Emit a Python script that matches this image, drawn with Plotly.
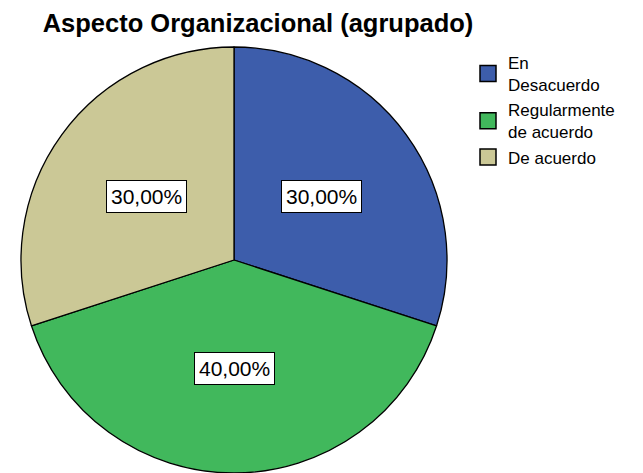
import math
import plotly.graph_objects as go

# ---- data ----
categories = ["En<br>Desacuerdo", "Regularmente<br>de acuerdo", "De acuerdo"]
values = [30, 40, 30]
label_texts = ["30,00%", "40,00%", "30,00%"]
colors = ["#3d5dab", "#41b85c", "#cbc896"]
title_text = "Aspecto Organizacional (agrupado)"

# page body has an 8px margin, so the figure is sized to fit the window
OFF = 8
W, H = 643 - OFF, 473 - OFF


def px_x(x):
    return (x - OFF) / W


def px_y(y):
    return 1 - (y - OFF) / H


cx, cy, r = 234.0, 260.0, 213.0   # pie centre / radius in window pixels

fig = go.Figure()
fig.add_trace(go.Pie(
    labels=categories,
    values=values,
    sort=False,
    direction="clockwise",
    rotation=0,
    textinfo="none",
    hoverinfo="label+percent",
    showlegend=False,
    marker=dict(colors=colors, line=dict(color="#000000", width=1.3)),
    domain=dict(x=[px_x(cx - r), px_x(cx + r)], y=[max(0, px_y(cy + r)), px_y(cy - r)]),
))

# legend entries with larger square swatches
for name, col in zip(categories, colors):
    fig.add_trace(go.Scatter(
        x=[None], y=[None], mode="markers", name=name,
        marker=dict(symbol="square", size=16, color=col, line=dict(color="#000000", width=1.5)),
        showlegend=True, hoverinfo="skip",
    ))

# percentage labels in boxes, placed at the middle angle of each slice
total = sum(values)
cum = 0.0
annotations = []
for v, t in zip(values, label_texts):
    mid = (cum + v / 2) / total * 2 * math.pi
    cum += v
    k = 0.51
    lx = cx + k * r * math.sin(mid)
    ly = cy - k * r * math.cos(mid)
    annotations.append(dict(
        x=px_x(lx), y=px_y(ly), xref="paper", yref="paper",
        text=t, showarrow=False,
        font=dict(family="Liberation Sans, Arial, sans-serif", size=21, color="#000000"),
        bgcolor="#ffffff", bordercolor="#000000", borderwidth=1, borderpad=4,
        xanchor="center", yanchor="middle",
    ))

fig.update_layout(
    width=W, height=H,
    margin=dict(l=0, r=0, t=0, b=0),
    paper_bgcolor="#ffffff",
    plot_bgcolor="#ffffff",
    xaxis=dict(visible=False, domain=[0.99, 1.0]),
    yaxis=dict(visible=False, domain=[0.99, 1.0]),
    title=dict(
        text="<b>" + title_text + "</b>",
        x=px_x(258), y=px_y(23), xanchor="center", yanchor="middle",
        xref="paper", yref="paper",
        font=dict(family="Liberation Sans, Arial, sans-serif", size=25.5, color="#000000"),
    ),
    legend=dict(
        x=px_x(468), y=px_y(45), xanchor="left", yanchor="top",
        font=dict(family="Liberation Sans, Arial, sans-serif", size=17, color="#000000"),
        bgcolor="rgba(0,0,0,0)", tracegroupgap=0, itemclick=False, itemdoubleclick=False,
        itemsizing="trace",
    ),
    annotations=annotations,
    showlegend=True,
)

fig.write_html("out.html")
